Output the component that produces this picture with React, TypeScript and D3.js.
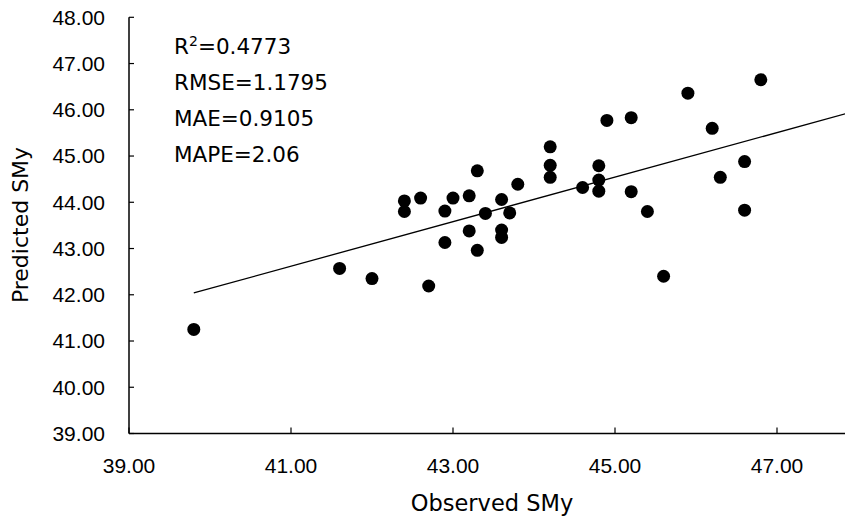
import React from "react";
import * as d3 from "d3";

const observed = [39.8, 41.6, 42.0, 42.4, 42.4, 42.6, 42.7, 42.9, 42.9, 43.0, 43.2, 43.2, 43.3, 43.3, 43.4, 43.6, 43.6, 43.6, 43.7, 43.8, 44.2, 44.2, 44.2, 44.6, 44.8, 44.8, 44.8, 44.9, 45.2, 45.2, 45.4, 45.6, 45.9, 46.2, 46.3, 46.6, 46.6, 46.8];
const predicted = [41.25, 42.57, 42.35, 44.03, 43.80, 44.09, 42.19, 43.81, 43.13, 44.09, 44.14, 43.38, 44.68, 42.96, 43.76, 44.06, 43.40, 43.24, 43.77, 44.39, 45.20, 44.80, 44.54, 44.32, 44.79, 44.48, 44.24, 45.77, 45.83, 44.23, 43.80, 42.40, 46.36, 45.60, 44.54, 44.88, 43.83, 46.65];
const xTicks = [39, 41, 43, 45, 47];
const yTicks = [39, 40, 41, 42, 43, 44, 45, 46, 47, 48];
const statsLines = ["RMSE=1.1795", "MAE=0.9105", "MAPE=2.06"];
const trendSlope = 0.4816;
const trendIntercept = 22.872;

const W = 845, H = 519;
const x = d3.scaleLinear().domain([39, 48]).range([129, 858]);
const y = d3.scaleLinear().domain([39, 48]).range([433.5, 17.3]);

export default function App() {
  const x0 = d3.min(observed)!;
  const x1 = 48;
  const line = d3.line<number>().x((d) => x(d)).y((d) => y(trendIntercept + trendSlope * d));
  const tickFont = "'Liberation Sans', Arial, sans-serif";
  const textFont = "'DejaVu Sans', sans-serif";
  return (
    <svg width={W} height={H} style={{ position: "absolute", left: 0, top: 0, background: "#fff" }}>
      <rect width={W} height={H} fill="#fff" />
      <line x1={x(39)} x2={W} y1={y(39)} y2={y(39)} stroke="#000" strokeWidth={1.5} />
      <line x1={x(39)} x2={x(39)} y1={y(39)} y2={y(48)} stroke="#000" strokeWidth={1.5} />
      {yTicks.map((t) => (
        <g key={"y" + t}>
          <line x1={x(39)} x2={x(39) + 5} y1={y(t)} y2={y(t)} stroke="#000" strokeWidth={1.2} />
          <text x={105} y={y(t)} dy="0.35em" textAnchor="end" fontFamily={tickFont} fontSize={21} fill="#000">
            {d3.format(".2f")(t)}
          </text>
        </g>
      ))}
      {xTicks.map((t) => (
        <g key={"x" + t}>
          <line x1={x(t)} x2={x(t)} y1={y(39)} y2={y(39) - 6} stroke="#000" strokeWidth={1.2} />
          <text x={x(t)} y={473} textAnchor="middle" fontFamily={tickFont} fontSize={21} fill="#000">
            {d3.format(".2f")(t)}
          </text>
        </g>
      ))}
      <text x={492} y={511} textAnchor="middle" fontFamily={textFont} fontSize={22.5} fill="#000">
        Observed SMy
      </text>
      <text transform={`translate(28,${225}) rotate(-90)`} textAnchor="middle" fontFamily={textFont} fontSize={22} fill="#000">
        Predicted SMy
      </text>
      <path d={line([x0, x1]) || ""} stroke="#000" strokeWidth={1.3} fill="none" />
      {observed.map((o, i) => (
        <circle key={i} cx={x(o)} cy={y(predicted[i])} r={6.5} fill="#000" />
      ))}
      <text x={174} y={54} fontFamily={textFont} fontSize={21.5} fill="#000">
        R<tspan dy={-8} fontSize={14}>2</tspan><tspan dy={8}>=0.4773</tspan>
      </text>
      {statsLines.map((s, i) => (
        <text key={s} x={174} y={90 + i * 36} fontFamily={textFont} fontSize={21.5} fill="#000">
          {s}
        </text>
      ))}
    </svg>
  );
}
